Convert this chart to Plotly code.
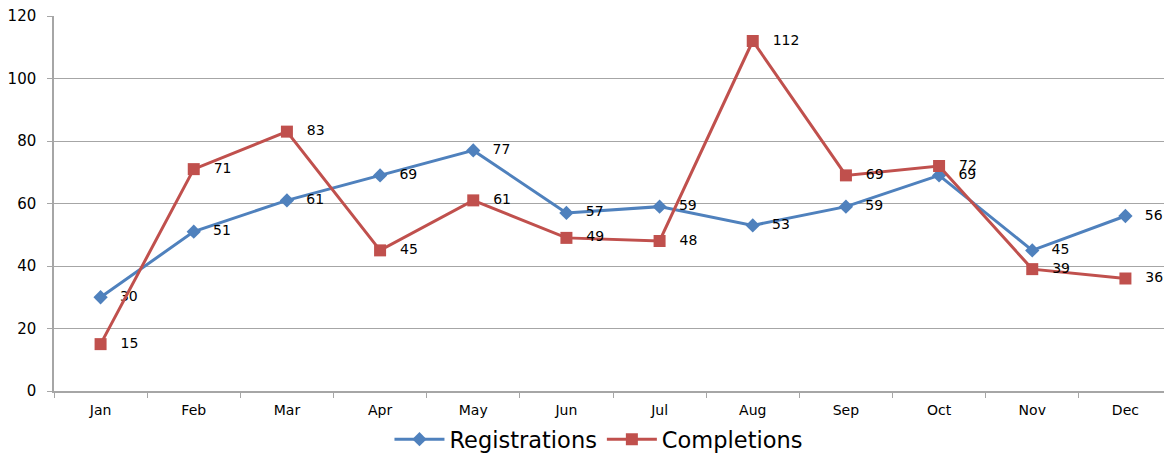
import plotly.graph_objects as go

months = ["Jan", "Feb", "Mar", "Apr", "May", "Jun", "Jul", "Aug", "Sep", "Oct", "Nov", "Dec"]
registrations = [30, 51, 61, 69, 77, 57, 59, 53, 59, 69, 45, 56]
completions = [15, 71, 83, 45, 61, 49, 48, 112, 69, 72, 39, 36]

PAD = "\u2002 "

fig = go.Figure()
fig.add_trace(go.Scatter(
    x=months, y=registrations, name="Registrations", mode="lines+markers+text",
    line=dict(color="#4F81BD", width=3),
    marker=dict(symbol="diamond", size=11, color="#4F81BD"),
    text=[PAD + str(v) for v in registrations], textposition="middle right",
    textfont=dict(family="DejaVu Sans", size=14, color="#000000"),
    cliponaxis=False,
))
fig.add_trace(go.Scatter(
    x=months, y=completions, name="Completions", mode="lines+markers+text",
    line=dict(color="#C0504D", width=3),
    marker=dict(symbol="square", size=12, color="#C0504D"),
    text=[PAD + str(v) for v in completions], textposition="middle right",
    textfont=dict(family="DejaVu Sans", size=14, color="#000000"),
    cliponaxis=False,
))

fig.update_layout(
    width=1172, height=457,
    margin=dict(l=46, r=8, t=8, b=74, autoexpand=False),
    paper_bgcolor="white", plot_bgcolor="white",
    font=dict(family="DejaVu Sans", color="#000000"),
    showlegend=True,
    legend=dict(orientation="h", x=0.487, xanchor="center", y=-0.072, yanchor="top",
                font=dict(size=22.5, family="DejaVu Sans"), itemwidth=50),
    xaxis=dict(
        type="category", range=[-0.5, 11.5], automargin=False,
        showline=True, linecolor="#A6A6A6", linewidth=1.5,
        ticks="outside", tickson="boundaries", ticklen=5, tickcolor="#A6A6A6",
        showgrid=False, tickfont=dict(size=14), ticklabelstandoff=5,
        ticklabeloverflow="allow",
    ),
    yaxis=dict(
        range=[0, 120], dtick=20, automargin=False,
        showline=True, linecolor="#A6A6A6", linewidth=1.5,
        ticks="outside", ticklen=5, tickcolor="#A6A6A6",
        showgrid=True, gridcolor="#A6A6A6", gridwidth=1,
        zeroline=False, tickfont=dict(size=15), ticklabelstandoff=8,
        ticklabeloverflow="allow",
    ),
)

fig.write_html("out.html")
